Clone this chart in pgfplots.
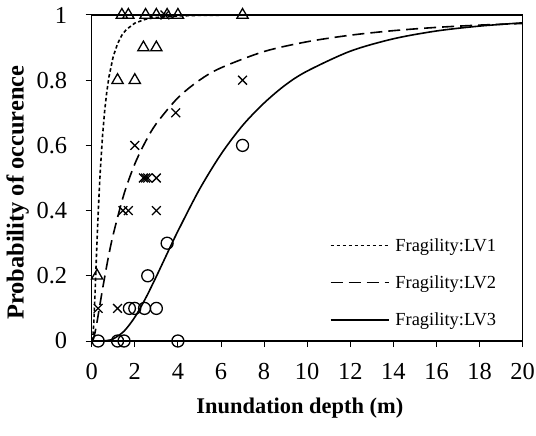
\documentclass[border=0pt]{standalone}
\usepackage{fontspec}
\setmainfont{Liberation Serif}
\usepackage{pgfplots}
\pgfplotsset{compat=1.18}

\begin{document}
\begin{tikzpicture}
\begin{axis}[
  scale only axis, width=431bp, height=326bp,
  xmin=0, xmax=20, ymin=0, ymax=1,
  xtick={0,2,4,6,8,10,12,14,16,18,20},
  ytick={0,0.2,0.4,0.6,0.8,1},
  tick align=outside, xtick pos=bottom, ytick pos=left,
  major tick length=6bp,
  axis line style={line width=1.2bp},
  tick style={line width=1bp, black},
  /pgf/number format/assume math mode=true,
  ticklabel style={font=\fontsize{24.5}{28}\selectfont},
  xticklabel style={yshift=-13bp},
  yticklabel style={xshift=-15bp},
  xlabel={Inundation depth (m)},
  ylabel={Probability of occurence},
  x label style={at={(axis description cs:0.483,-0.206)}, anchor=center,
    font=\fontsize{22.5}{26}\selectfont\bfseries},
  y label style={at={(axis description cs:-0.172,0.455)}, anchor=center,
    font=\fontsize{24.5}{28}\selectfont\bfseries},
  legend style={draw=none, fill=none, at={(axis description cs:0.545,0.325)},
    anchor=north west, font=\fontsize{18.5}{21}\selectfont, row sep=21bp,
    nodes={inner sep=1bp}},
  legend cell align=left,
  legend image code/.code={\draw[#1] (0bp,0bp) -- (58bp,0bp);},
]
%% fragility curves
\addplot[black, line width=1.6bp, dash pattern=on 3.5bp off 2.5bp] coordinates {
(0.02,0.0003)(0.05,0.0085)(0.1,0.058)(0.15,0.137)(0.2,0.225)(0.25,0.311)(0.3,0.39)
(0.35,0.461)(0.4,0.524)(0.5,0.627)(0.6,0.705)(0.7,0.764)(0.8,0.81)(1.0,0.873)
(1.2,0.912)(1.4,0.938)(1.6,0.955)(2,0.975)(2.5,0.987)(3,0.9925)(4,0.997)(5,0.999)
(7,0.9998)(10,1)(20,1)};
\addlegendentry{\hspace{5bp}Fragility:LV1}
\addplot[black, line width=1.6bp, smooth, dash pattern=on 12bp off 6bp] coordinates {
(0.05,0.002)(0.1,0.011)(0.2,0.041)(0.3,0.079)(0.5,0.158)(0.75,0.249)(1,0.327)
(1.5,0.451)(2,0.543)(2.5,0.612)(3,0.667)(4,0.746)(5,0.80)(6,0.838)(8,0.888)
(10,0.918)(12,0.938)(14,0.952)(16,0.962)(18,0.969)(20,0.974)};
\addlegendentry{\hspace{5bp}Fragility:LV2}
\addplot[black, line width=1.6bp, smooth] coordinates {
(0.6,0.0005)(0.8,0.0024)(1,0.0064)(1.5,0.03)(2,0.073)(2.5,0.131)(3,0.198)
(3.5,0.268)(4,0.337)(5,0.465)(6,0.573)(7,0.661)(8,0.73)(9,0.786)(10,0.828)
(12,0.889)(14,0.927)(16,0.951)(18,0.966)(20,0.976)};
\addlegendentry{\hspace{5bp}Fragility:LV3}
%% observed points
\addplot[only marks, mark=triangle, mark size=6.5bp, black, line width=1.3bp, forget plot] coordinates {
(1.4,1)(1.7,1)(2.5,1)(3.0,1)(3.5,1)(4.0,1)(7,1)
(2.4,0.9)(3.0,0.9)(1.2,0.8)(2.0,0.8)(0.25,0.2)};
\addplot[only marks, mark=x, mark size=6.2bp, black, line width=1.3bp, forget plot] coordinates {
(3.4,1)(7,0.8)(3.9,0.7)(2.0,0.6)(2.4,0.5)(2.5,0.5)(2.6,0.5)(3.0,0.5)
(1.45,0.4)(1.7,0.4)(3.0,0.4)(0.3,0.1)(1.2,0.1)};
\addplot[only marks, mark=o, mark size=6bp, black, line width=1.3bp, forget plot] coordinates {
(7,0.6)(3.5,0.3)(2.6,0.2)(1.75,0.1)(2.0,0.1)(2.45,0.1)(3.0,0.1)
(0.3,0)(1.2,0)(1.5,0)(4.0,0)};
\end{axis}
\path (current axis.south west) ++(-91.7bp,-95bp) coordinate (bl);
\path (current axis.north east) ++(13.3bp,15bp) coordinate (tr);
\pgfresetboundingbox
\useasboundingbox (bl) rectangle (tr);
\end{tikzpicture}
\end{document}
